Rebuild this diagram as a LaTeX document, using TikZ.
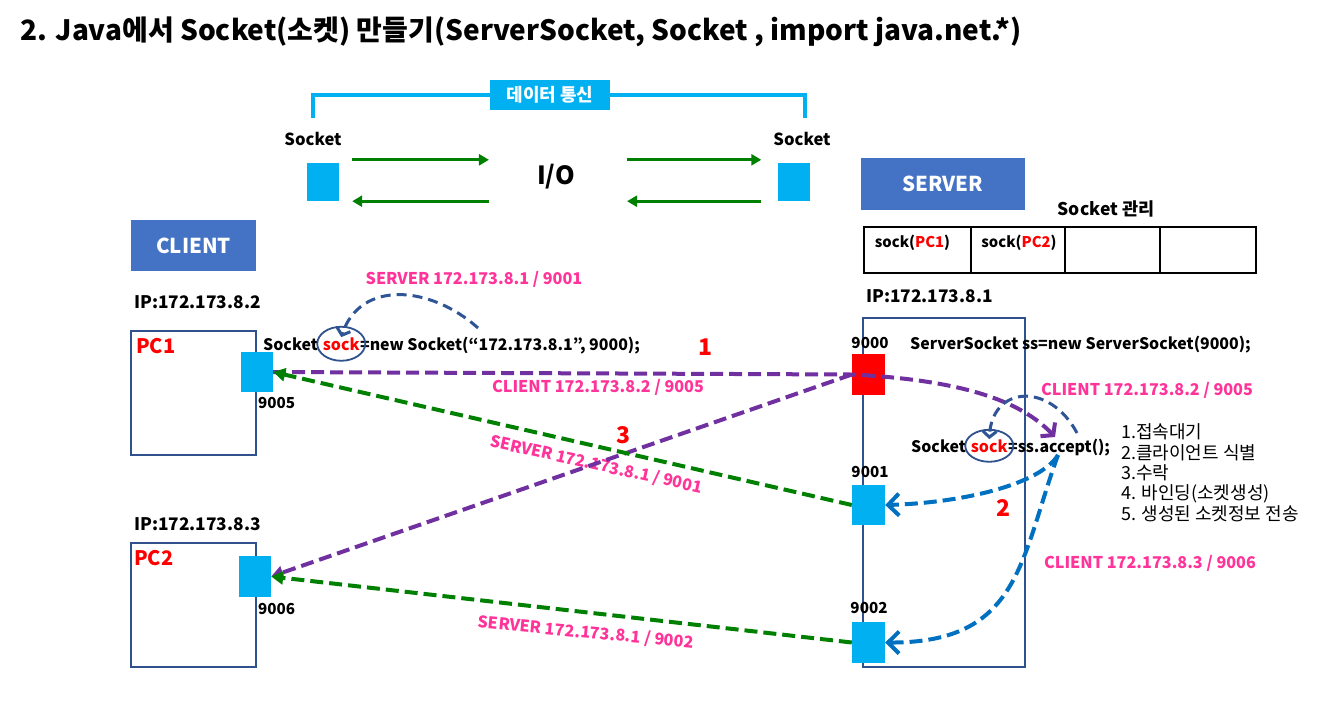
\documentclass[tikz,border=0pt]{standalone}
\usepackage{fontspec}
\setmainfont{Noto Sans CJK KR}
\usetikzlibrary{arrows.meta,positioning,shapes.geometric}

\definecolor{sky}{RGB}{0,176,240}
\definecolor{hdrblue}{RGB}{68,114,196}
\definecolor{boxblue}{RGB}{47,82,143}
\definecolor{lblpink}{RGB}{255,51,153}
\definecolor{purp}{RGB}{112,48,160}
\definecolor{grn}{RGB}{0,128,0}
\definecolor{lnkblue}{RGB}{0,112,192}
\definecolor{refblue}{RGB}{47,85,151}

\newcommand{\fs}[1]{\fontsize{#1}{#1}\selectfont}

\tikzset{
  port/.style={fill=sky, inner sep=0, minimum width=32, minimum height=40},
  hdr/.style={fill=hdrblue, text=white, font=\bfseries\fs{20.5}, inner sep=0},
  pcbox/.style={draw=boxblue, line width=2pt, inner sep=0, minimum width=125, minimum height=124},
  lbl/.style={text=lblpink, font=\bfseries\fs{16.2}, inner sep=0},
  code/.style={font=\bfseries\fs{15.9}, inner sep=0, anchor=base west},
  num/.style={font=\bfseries\fs{15.2}, inner sep=0},
  ipl/.style={font=\bfseries\fs{17.3}, inner sep=0, anchor=west},
  red num/.style={text=red, font=\bfseries\fs{23}, inner sep=0},
  req/.style={draw=purp, line width=4pt, dash pattern=on 13pt off 6pt},
  resp/.style={draw=grn, line width=4pt, dash pattern=on 13pt off 6pt, -{Triangle[length=12pt,width=13pt]}},
  bind/.style={draw=lnkblue, line width=4pt, dash pattern=on 13pt off 6pt, -{Straight Barb[length=11pt,width=22pt]}},
  refarr/.style={draw=refblue, line width=3pt, dash pattern=on 10pt off 6pt, -{Straight Barb[length=6pt,width=14pt]}},
  ioarr/.style={draw=grn, line width=3pt, -{Triangle[length=10pt,width=11pt]}}
}

\begin{document}
\begin{tikzpicture}[x=1pt,y=-1pt]
\useasboundingbox (0,0) rectangle (1320,705);
\fill[white] (0,0) rectangle (1320,705);

\def\xs{868.5}

\node[anchor=west, font=\bfseries\fs{28}, inner sep=0] (title) at (20,32) {2. Java에서 Socket(소켓) 만들기(ServerSocket, Socket , import java.net.*)};

% data transfer
\node[port, minimum height=38] (ls) at (323,182) {};
\node[port, minimum height=38] (rs) at (793.5,182) {};
\node[num, font=\bfseries\fs{16.6}] (lsl) at (313,139) {Socket};
\node[num, font=\bfseries\fs{16.6}] (rsl) at (802,139) {Socket};
\node[fill=sky, text=white, font=\bfseries\fs{18}, minimum width=120, minimum height=30, inner sep=0] (data) at (550,95) {데이터 통신};
\coordinate (bl) at (313,118);
\coordinate (br) at (805,118);
\draw[sky, line width=3.5pt] (bl) |- (data.west);
\draw[sky, line width=3.5pt] (data.east) -| (br);
\node[font=\bfseries\fs{25}, inner sep=0] (io) at (556,177) {I/O};
\draw[ioarr] ([xshift=13pt,yshift=3pt]ls.north east) -- ([xshift=-48pt,yshift=3pt]io.west |- ls.north);
\draw[ioarr] ([xshift=-48pt]io.west |- ls.south) -- ([xshift=13pt]ls.south east);
\draw[ioarr] ([xshift=52pt,yshift=3pt]io.east |- ls.north) -- ([xshift=-16pt,yshift=3pt]rs.north west);
\draw[ioarr] ([xshift=-16pt]rs.south west) -- ([xshift=52pt]io.east |- ls.south);

% headers
\node[hdr, minimum width=164, minimum height=52] (server) at (943,184) {SERVER};
\node[hdr, minimum width=125, minimum height=51] (client) at (193.5,245.5) {CLIENT};

% socket table
\node[num, font=\bfseries\fs{17.5}] (mgr) at (1106,209) {Socket 관리};
\draw[line width=2pt] (864,227) rectangle (1256,273);
\foreach \x in {971,1065,1160}
  \draw[line width=2pt] (\x,227) -- (\x,273);
\node[num, font=\bfseries\fs{14.8}] (t1) at (912.5,243) {sock(\textcolor{red}{PC1})};
\node[num, font=\bfseries\fs{14.8}] (t2) at (1019,243) {sock(\textcolor{red}{PC2})};

% client side
\node[ipl] (ip1) at (134,302) {IP:172.173.8.2};
\node[pcbox] (pc1) at (193.5,393) {};
\node[text=red, font=\bfseries\fs{20}, inner sep=0, anchor=west] (pc1l) at (136,346) {PC1};
\node[port] (s1) at (257,372) {};
\node[num, anchor=west] (n1) at (258,403) {9005};

\node[ipl] (ip2) at (134,524) {IP:172.173.8.3};
\node[pcbox] (pc2) at (193.5,605) {};
\node[text=red, font=\bfseries\fs{20}, inner sep=0, anchor=west] (pc2l) at (134,558) {PC2};
\node[port, minimum height=41] (s2) at (255,576.5) {};
\node[num, anchor=west] (n2) at (258,609) {9006};

\node[code] (c1) at (263,350) {Socket};
\node[code, text=red, xshift=4.5pt] (ck) at (c1.base east) {sock};
\node[code] (c3) at (ck.base east) {=new Socket(“172.173.8.1”, 9000);};
\draw[boxblue, line width=1.8pt] (ck) ellipse (24pt and 17pt);
\node[lbl] (l1) at (474,279) {SERVER 172.173.8.1 / 9001};

% server side
\node[ipl] (ip0) at (866,296) {IP:172.173.8.1};
\node[draw=boxblue, line width=2pt, inner sep=0, minimum width=162, minimum height=349] (srv) at (944,492.5) {};
\node[fill=red, inner sep=0, minimum width=33, minimum height=41] (p0) at (\xs,374.5) {};
\node[port, minimum width=33] (p1) at (\xs,505) {};
\node[port, minimum width=33, minimum height=41] (p2) at (\xs,642.5) {};
\node[num] (n0) at (870,343) {9000};
\node[num] (n01) at (870,472) {9001};
\node[num] (n02) at (869,608) {9002};
\node[code] (c4) at (910,349) {ServerSocket ss=new ServerSocket(9000);};
\node[code] (c5) at (911,452) {Socket};
\node[code, text=red, xshift=4.5pt] (ck2) at (c5.base east) {sock};
\node[code] (c6) at (ck2.base east) {=ss.accept();};
\draw[boxblue, line width=1.8pt] (ck2) ellipse (24pt and 16pt);
\node[lbl] (l2) at (1147,390) {CLIENT 172.173.8.2 / 9005};
\node[lbl] (l3) at (1150,563) {CLIENT 172.173.8.3 / 9006};

\foreach \t [count=\i] in {1.접속대기, 2.클라이언트 식별, 3.수락, 4. 바인딩(소켓생성), 5. 생성된 소켓정보 전송}
  \node[font=\fs{18}, inner sep=0, anchor=base west] (st\i) at (1121,418.5+20.3*\i) {\t};

% step numbers and line labels
\node[red num] (one) at (705,347) {1};
\node[red num] (two) at (1003,508) {2};
\node[red num] (three) at (623,435) {3};
\node[lbl] (l4) at (598,387) {CLIENT 172.173.8.2 / 9005};
\node[lbl, rotate=-12.4] (l5) at (596,465) {SERVER 172.173.8.1 / 9001};
\node[lbl, rotate=-5.4] (l6) at (586,633) {SERVER 172.173.8.1 / 9002};

% connectors
\coordinate (acc) at (1055,437);
\coordinate (accb) at (1058,455);
\coordinate (acct) at (1077,433);
\coordinate (cli) at (478,328);

\draw[req, -{Straight Barb[length=8pt,width=20pt]}] (s1.east) -- (p0.west) .. controls (960,380) and (1020,400) .. (acc);
\draw[req, -{Triangle[length=12pt,width=13pt]}] (p0.west) -- (s2.east);
\draw[resp] (p1.west) -- (s1.east);
\draw[resp] (p2.west) -- (s2.east);
\draw[bind] (accb) .. controls (1040,485) and (960,503) .. (p1.east);
\draw[bind] (accb) .. controls (1020,560) and (1020,643) .. (p2.east);
\draw[refarr] (acct) .. controls (1050,382) and (992,385) .. (ck2.north);
\draw[refarr] (cli) .. controls (430,285) and (360,280) .. (ck.north);

\end{tikzpicture}
\end{document}
